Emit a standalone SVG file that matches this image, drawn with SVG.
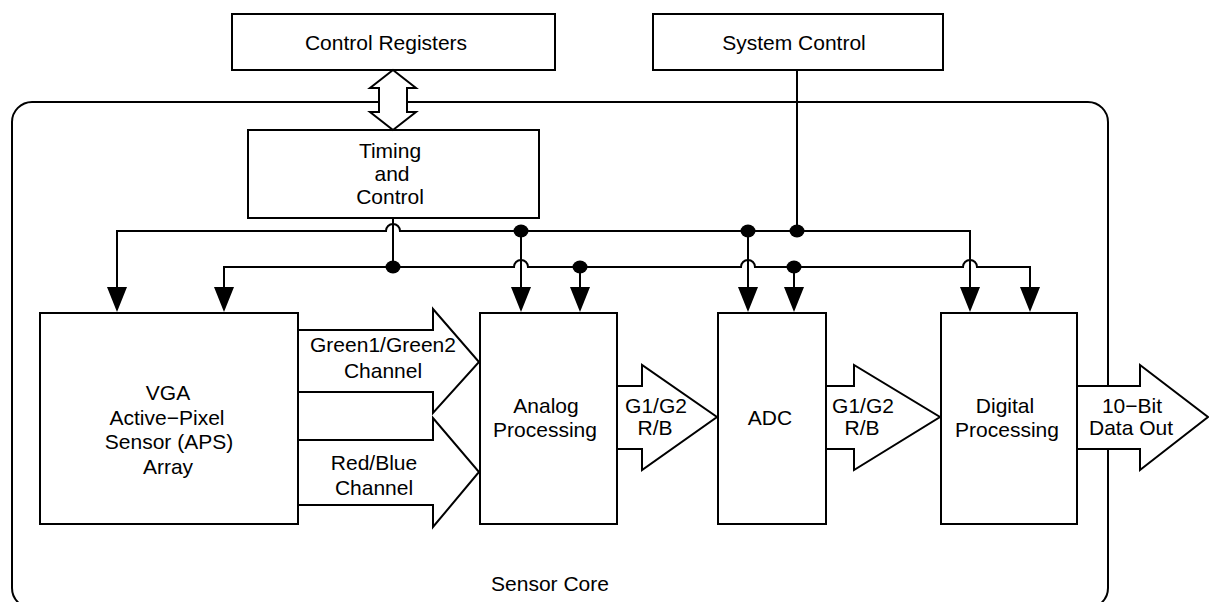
<svg xmlns="http://www.w3.org/2000/svg" xmlns:xlink="http://www.w3.org/1999/xlink" width="1209" height="602" viewBox="0 0 1209 602">
<style>
  .box { fill: #fff; stroke: #000; stroke-width: 2; }
  .line { fill: none; stroke: #000; stroke-width: 2; }
  .fat { fill: #fff; stroke: #000; stroke-width: 2; stroke-linejoin: miter; }
  .dot { fill: #000; }
  text { font-family: "Liberation Sans", Arial, Helvetica, sans-serif; font-size: 21px; fill: #000; text-anchor: middle; }
</style>
<defs>
  <path id="ah" d="M-10,-25 L10,-25 L0,0 Z" fill="#000"/>
</defs>
<rect width="1209" height="602" fill="#fff"/>

<g id="sensor-core">
  <path class="line" d="M12,122 A20,20 0 0 1 32,102 H1088 A20,20 0 0 1 1108,122 V588 A20,20 0 0 1 1088,608 H32 A20,20 0 0 1 12,588 Z"/>
  <text x="550" y="591">Sensor Core</text>
</g>

<g id="control-registers">
  <rect class="box" x="232" y="14" width="323" height="56"/>
  <text x="386" y="50">Control Registers</text>
</g>

<g id="system-control">
  <rect class="box" x="653" y="14" width="290" height="56"/>
  <text x="794" y="50">System Control</text>
</g>

<g id="timing-control">
  <rect class="box" x="248" y="130" width="291" height="88"/>
  <text x="390" y="158">Timing</text>
  <text x="392" y="181">and</text>
  <text x="390" y="204">Control</text>
</g>

<g id="aps-array">
  <rect class="box" x="40" y="313" width="258" height="211"/>
  <text x="168" y="400">VGA</text>
  <text x="167" y="425">Active−Pixel</text>
  <text x="169" y="449">Sensor (APS)</text>
  <text x="168" y="474">Array</text>
</g>

<g id="analog-processing">
  <rect class="box" x="480" y="313" width="137" height="211"/>
  <text x="546" y="413">Analog</text>
  <text x="545" y="437">Processing</text>
</g>

<g id="adc">
  <rect class="box" x="718" y="313" width="108" height="211"/>
  <text x="770" y="425">ADC</text>
</g>

<g id="digital-processing">
  <rect class="box" x="941" y="313" width="136" height="211"/>
  <text x="1005" y="413">Digital</text>
  <text x="1007" y="437">Processing</text>
</g>

<g id="connectors">
  <!-- double arrow between Control Registers and Timing -->
  <polygon class="fat" points="393,70 416,88 407,88 407,112 416,112 393,130 370,112 379,112 379,88 370,88"/>
  <!-- system control line -->
  <path class="line" d="M797,70 V231"/>
  <!-- timing line -->
  <path class="line" d="M393,218 V267"/>
  <!-- bus 1 -->
  <path class="line" d="M117,288 V231 H386 A7,7 0 0 1 400,231 H970 V288"/>
  <!-- bus 2 -->
  <path class="line" d="M224,288 V267 H514 A7,7 0 0 1 528,267 H741 A7,7 0 0 1 755,267 H963 A7,7 0 0 1 977,267 H1030 V288"/>
  <!-- drops -->
  <path class="line" d="M521,231 V288 M580,267 V288 M748,231 V288 M794,267 V288"/>
  <!-- dots -->
  <ellipse class="dot" cx="521" cy="231" rx="7.5" ry="6.5"/>
  <ellipse class="dot" cx="748" cy="231" rx="7.5" ry="6.5"/>
  <ellipse class="dot" cx="797" cy="231" rx="7.5" ry="6.5"/>
  <ellipse class="dot" cx="393" cy="267" rx="7.5" ry="6.5"/>
  <ellipse class="dot" cx="580" cy="267" rx="7.5" ry="6.5"/>
  <ellipse class="dot" cx="794" cy="267" rx="7.5" ry="6.5"/>
  <!-- arrowheads -->
  <use xlink:href="#ah" x="117" y="312"/>
  <use xlink:href="#ah" x="224" y="312"/>
  <use xlink:href="#ah" x="521" y="312"/>
  <use xlink:href="#ah" x="580" y="312"/>
  <use xlink:href="#ah" x="748" y="312"/>
  <use xlink:href="#ah" x="794" y="312"/>
  <use xlink:href="#ah" x="970" y="312"/>
  <use xlink:href="#ah" x="1030" y="312"/>

  <!-- fat data arrows -->
  <polygon class="fat" points="298,330 433,330 433,309 479,362 433,413 433,392 298,392"/>
  <text x="383" y="352">Green1/Green2</text>
  <text x="383" y="378">Channel</text>
  <polygon class="fat" points="298,440 433,440 433,418 479,472 433,527 433,505 298,505"/>
  <text x="374" y="470">Red/Blue</text>
  <text x="374" y="495">Channel</text>

  <polygon class="fat" points="617,386 642,386 642,365 717,417 642,470 642,449 617,449"/>
  <text x="656" y="413">G1/G2</text>
  <text x="655" y="435">R/B</text>

  <polygon class="fat" points="826,386 854,386 854,365 940,417 854,470 854,449 826,449"/>
  <text x="863" y="413">G1/G2</text>
  <text x="862" y="435">R/B</text>

  <polygon class="fat" points="1077,386 1140,386 1140,365 1208,417 1140,470 1140,449 1077,449"/>
  <text x="1132" y="413">10−Bit</text>
  <text x="1131" y="435">Data Out</text>
</g>
</svg>
